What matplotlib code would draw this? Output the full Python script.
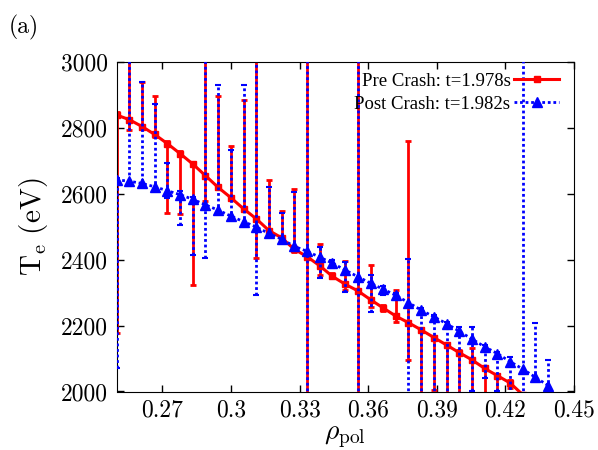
import numpy as np
import matplotlib
matplotlib.use('Agg')
import matplotlib.pyplot as plt
from matplotlib.lines import Line2D

plt.rcParams['mathtext.fontset'] = 'cm'
plt.rcParams['axes.formatter.use_mathtext'] = True

# rho_pol positions
rho = [0.2500, 0.2555, 0.2611, 0.2666, 0.2722, 0.2777, 0.2833, 0.2888,
       0.2944, 0.2999, 0.3055, 0.3110, 0.3166, 0.3221, 0.3277, 0.3332,
       0.3388, 0.3443, 0.3499, 0.3554, 0.3610, 0.3665, 0.3721, 0.3776,
       0.3832, 0.3887, 0.3943, 0.3998, 0.4054, 0.4109, 0.4165, 0.4220,
       0.4276, 0.4331, 0.4387]

# pre crash t=1.978s : Te, lower end, upper end of error bar
pre_te = [2840, 2826, 2805, 2781, 2753, 2723, 2691, 2656, 2620, 2589, 2555,
          2525, 2489, 2467, 2432, 2410, 2382, 2350, 2326, 2306, 2279, 2254,
          2229, 2209, 2187, 2164, 2141, 2118, 2096, 2070, 2048, 2026, 1990]
pre_lo = [2177, 2794, 2798, 2774, 2541, 2538, 2324, 2580, 2615, 2584, 2550,
          2407, 2484, 2461, 2425, 1900, 2354, 2344, 2307, 1900, 2258, 2245,
          2212, 2096, 1900, 2005, 1900, 1900, 1990, 1900, 1900, 2010, 1985]
pre_hi = [2848, 3100, 2940, 2898, 2760, 2730, 2696, 3100, 2898, 2747, 2886,
          3100, 2641, 2549, 2614, 3100, 2447, 2360, 2397, 3100, 2385, 2262,
          2308, 2761, 2192, 2170, 2146, 2125, 2132, 2078, 2052, 2035, 1995]

# post crash t=1.982s
post_te = [2643, 2639, 2632, 2622, 2610, 2598, 2584, 2567, 2551, 2533, 2516,
           2500, 2480, 2463, 2441, 2426, 2408, 2390, 2369, 2349, 2329, 2311,
           2292, 2270, 2247, 2227, 2206, 2183, 2159, 2136, 2115, 2091, 2068,
           2043, 2018]
post_lo = [2071, 2625, 2622, 2615, 2587, 2506, 2415, 2405, 2545, 2525, 2510,
           2294, 2472, 2457, 2435, 1900, 2344, 2375, 2303, 1900, 2240, 2292,
           2280, 1900, 1900, 1900, 1900, 1960, 2000, 2040, 2000, 1990, 1900,
           2038, 2012]
post_hi = [2650, 3100, 2940, 2874, 2693, 2610, 2590, 3100, 2931, 2734, 2931,
           3100, 2622, 2541, 2607, 3100, 2440, 2400, 2392, 3100, 2355, 2320,
           2300, 2403, 2253, 2232, 2212, 2195, 2197, 2140, 2121, 2106, 3100,
           2207, 2096]

xticks = [0.27, 0.30, 0.33, 0.36, 0.39, 0.42, 0.45]
xticklabels = ['0.27', '0.3', '0.33', '0.36', '0.39', '0.42', '0.45']
yticks = [2000, 2200, 2400, 2600, 2800, 3000]

fig = plt.figure(figsize=(5.98, 4.5), dpi=100)
ax = fig.add_axes([0.195, 0.13, 0.765, 0.7315])

x1 = np.array(rho[:len(pre_te)])
y1 = np.array(pre_te)
err1 = [y1 - np.array(pre_lo), np.array(pre_hi) - y1]
ax.errorbar(x1, y1, yerr=err1, color='#ff0000', lw=2.2, marker='s', ms=4,
            elinewidth=2, capsize=2.5, capthick=2, zorder=2)

x2 = np.array(rho[:len(post_te)])
y2 = np.array(post_te)
err2 = [y2 - np.array(post_lo), np.array(post_hi) - y2]
eb = ax.errorbar(x2, y2, yerr=err2, color='#0000ff', lw=2, ls=(0, (1, 1)),
                 marker='^', ms=6.5, elinewidth=2, capsize=2.5, capthick=1.5,
                 zorder=3)
for lc in eb[2]:
    lc.set_linestyle((0, (1, 1)))

ax.set_xlim(0.25, 0.45)
ax.set_ylim(2000, 3000)
ax.set_xticks(xticks)
ax.set_xticklabels(xticklabels, fontfamily='cmr10', fontsize=17)
ax.set_yticks(yticks)
ax.set_yticklabels([str(v) for v in yticks], fontfamily='cmr10', fontsize=17)
ax.tick_params(direction='in', top=True, right=True, length=5, width=1, pad=6)

ax.set_xlabel(r'$\rho_{\mathrm{pol}}$', fontsize=20, labelpad=0)
ax.set_ylabel(r'$\mathrm{T_e\ (eV)}$', fontsize=21, labelpad=8)

handles = [Line2D([], [], color='#ff0000', lw=2.2, marker='s', ms=4),
           Line2D([], [], color='#0000ff', lw=2, ls=(0, (1, 1)), marker='^', ms=6.5)]
ax.legend(handles, ['Pre Crash: t=1.978s', 'Post Crash: t=1.982s'],
          loc='upper right', markerfirst=False, frameon=False,
          prop={'family': 'Liberation Serif', 'size': 13.5},
          handlelength=2.4, handletextpad=0.2, labelspacing=0.3,
          borderaxespad=0.2, borderpad=0.35, bbox_to_anchor=(0.99, 1.0))

fig.text(0.015, 0.925, '(a)', fontfamily='cmr10', fontsize=17)

fig.savefig('out.png', dpi=100)
